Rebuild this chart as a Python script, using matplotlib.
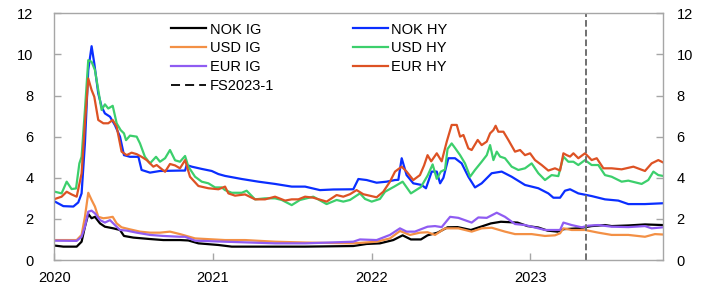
import matplotlib
matplotlib.use("Agg")
import matplotlib.pyplot as plt
from matplotlib.lines import Line2D
import numpy as np

plt.rcParams['font.family'] = ['Liberation Sans', 'DejaVu Sans']
plt.rcParams['font.size'] = 10.5

# ---- data: time in years since 2020-01-01, values in percentage points ----
t_nok_hy = [0.004,0.057,0.12,0.151,0.172,0.193,0.214,0.235,0.252,0.277,
            0.298,0.319,0.351,0.382,0.414,0.439,0.477,0.53,0.55,0.603,
            0.666,0.792,0.824,0.834,0.866,0.929,0.992,1.034,1.076,1.181,
            1.286,1.391,1.496,1.58,1.674,1.758,1.884,1.916,1.968,2.031,
            2.094,2.147,2.168,2.189,2.22,2.262,2.314,2.342,2.378,2.41,
            2.431,2.452,2.483,2.525,2.567,2.609,2.651,2.693,2.756,2.819,
            2.882,2.966,3.05,3.113,3.145,3.187,3.218,3.25,3.302,3.386,
            3.47,3.554,3.617,3.722,3.835]
nok_hy = [2.84,2.62,2.6,2.8,3.24,5.67,9.24,10.4,9.56,8.1,
          7.46,7.13,6.97,6.56,6.0,5.1,5.02,5.02,4.38,4.25,
          4.33,4.35,4.35,4.62,4.54,4.43,4.33,4.18,4.09,3.94,
          3.81,3.70,3.57,3.57,3.40,3.43,3.44,3.94,3.89,3.76,
          3.81,3.89,3.9,4.95,4.13,3.73,3.65,3.49,4.3,4.3,
          3.73,4.0,4.95,4.95,4.7,4.05,3.53,3.73,4.22,4.3,
          4.05,3.65,3.49,3.24,3.03,3.03,3.37,3.44,3.24,3.11,
          2.95,2.89,2.72,2.72,2.76]

t_usd_hy = [0.004,0.046,0.078,0.109,0.137,0.158,0.172,0.193,0.214,0.235,
            0.256,0.277,0.298,0.319,0.34,0.368,0.393,0.418,0.439,0.452,
            0.477,0.519,0.54,0.571,0.603,0.641,0.666,0.698,0.729,0.761,
            0.792,0.824,0.845,0.887,0.929,0.971,1.013,1.055,1.076,1.118,
            1.181,1.212,1.265,1.328,1.391,1.433,1.496,1.548,1.632,1.716,
            1.779,1.821,1.863,1.926,1.958,2.0,2.052,2.084,2.142,2.195,
            2.247,2.31,2.352,2.384,2.41,2.436,2.462,2.478,2.504,2.525,
            2.557,2.588,2.62,2.651,2.693,2.725,2.746,2.767,2.788,2.809,
            2.84,2.882,2.924,2.966,3.008,3.05,3.092,3.134,3.176,3.208,
            3.239,3.271,3.302,3.344,3.386,3.428,3.47,3.512,3.575,3.617,
            3.701,3.743,3.775,3.806,3.835]
usd_hy = [3.32,3.24,3.81,3.45,3.48,4.7,5.02,7.3,9.72,9.64,
          9.24,8.27,7.3,7.57,7.37,7.5,6.65,6.32,6.16,5.83,
          6.05,6.0,5.67,5.02,4.7,5.02,4.78,4.95,5.35,4.85,
          4.78,5.06,4.54,4.05,3.81,3.73,3.53,3.53,3.4,3.27,
          3.27,3.37,2.95,3.0,3.0,2.92,2.67,2.92,3.08,2.72,
          2.92,2.84,2.92,3.24,2.97,2.84,2.97,3.32,3.57,3.81,
          3.24,3.55,4.1,4.65,3.95,4.3,4.4,5.4,5.67,5.45,
          5.1,4.7,4.05,4.38,4.78,5.1,5.59,4.86,5.27,5.03,
          4.95,4.54,4.38,4.46,4.7,4.22,3.89,4.13,4.08,5.03,
          4.78,4.78,4.62,4.86,4.62,4.62,4.13,4.05,3.81,3.86,
          3.7,3.89,4.3,4.13,4.09]

t_eur_hy = [0.004,0.046,0.078,0.109,0.141,0.172,0.193,0.214,0.235,0.252,
            0.277,0.309,0.34,0.368,0.393,0.424,0.456,0.487,0.519,0.55,
            0.582,0.624,0.645,0.698,0.729,0.761,0.792,0.824,0.855,0.908,
            0.971,1.034,1.076,1.097,1.139,1.202,1.265,1.328,1.391,1.454,
            1.496,1.538,1.58,1.632,1.716,1.779,1.821,1.863,1.905,1.947,
            2.031,2.073,2.115,2.147,2.189,2.22,2.262,2.304,2.33,2.352,
            2.375,2.41,2.441,2.473,2.504,2.536,2.557,2.578,2.609,2.63,
            2.668,2.693,2.725,2.746,2.767,2.781,2.798,2.83,2.861,2.903,
            2.935,2.966,2.998,3.029,3.071,3.113,3.155,3.187,3.208,3.229,
            3.25,3.271,3.302,3.344,3.386,3.418,3.46,3.512,3.575,3.649,
            3.722,3.764,3.806,3.835]
eur_hy = [2.97,3.08,3.32,3.19,3.08,4.21,6.65,8.83,8.27,7.94,
          6.81,6.65,6.65,6.81,6.48,5.27,5.1,5.22,5.15,5.02,
          4.86,4.54,4.62,4.29,4.67,4.6,4.46,4.86,4.05,3.6,
          3.49,3.44,3.57,3.24,3.13,3.19,2.95,2.95,3.08,2.89,
          2.95,2.95,3.08,3.03,2.84,3.16,3.08,3.2,3.4,3.2,
          3.05,3.32,3.81,4.3,4.54,4.3,3.89,4.13,4.6,5.1,
          4.8,5.19,4.8,5.76,6.57,6.57,6.0,6.08,5.43,5.35,
          5.84,5.59,5.76,6.16,6.32,6.53,6.24,6.24,5.84,5.27,
          5.35,5.1,5.19,4.86,4.62,4.35,4.46,4.35,5.19,5.1,
          5.03,5.19,4.95,5.19,4.86,4.95,4.46,4.46,4.41,4.54,
          4.33,4.7,4.86,4.75]

t_nok_ig = [0.004,0.057,0.141,0.172,0.193,0.214,0.235,0.256,0.288,0.319,
            0.372,0.414,0.439,0.498,0.603,0.687,0.792,0.845,0.908,1.034,
            1.118,1.58,1.884,1.968,2.052,2.136,2.195,2.247,2.31,2.352,
            2.415,2.478,2.541,2.625,2.688,2.751,2.814,2.919,2.982,3.05,
            3.108,3.171,3.21,3.302,3.386,3.47,3.512,3.617,3.722,3.835]
nok_ig = [0.7,0.65,0.65,0.89,1.62,2.24,2.03,2.1,1.78,1.62,
          1.54,1.46,1.17,1.09,1.02,0.97,0.97,0.95,0.81,0.73,
          0.65,0.65,0.68,0.78,0.81,0.97,1.2,1.0,1.0,1.2,
          1.33,1.59,1.6,1.46,1.62,1.78,1.86,1.82,1.65,1.58,
          1.43,1.38,1.5,1.54,1.65,1.7,1.65,1.68,1.73,1.7]

t_usd_ig = [0.004,0.141,0.172,0.193,0.214,0.235,0.256,0.277,0.309,0.34,
            0.368,0.393,0.424,0.477,0.54,0.603,0.666,0.729,0.792,0.887,
            1.076,1.202,1.391,1.58,1.884,2.031,2.115,2.178,2.241,2.304,
            2.352,2.399,2.462,2.546,2.63,2.693,2.756,2.84,2.903,3.008,
            3.092,3.155,3.187,3.208,3.26,3.344,3.428,3.512,3.617,3.722,
            3.785,3.835]
usd_ig = [0.97,0.97,1.22,2.1,3.27,2.92,2.6,2.1,2.03,2.06,
          2.1,1.78,1.59,1.49,1.38,1.33,1.33,1.38,1.26,1.05,
          0.97,0.97,0.89,0.85,0.81,0.89,1.05,1.41,1.22,1.33,
          1.35,1.22,1.54,1.54,1.38,1.54,1.57,1.38,1.26,1.26,
          1.17,1.2,1.3,1.54,1.46,1.46,1.33,1.22,1.22,1.13,
          1.26,1.24]

t_eur_ig = [0.004,0.141,0.172,0.193,0.214,0.235,0.256,0.288,0.319,0.351,
            0.382,0.414,0.456,0.519,0.603,0.687,0.792,0.824,0.887,1.076,
            1.391,1.58,1.884,1.926,2.031,2.115,2.178,2.22,2.272,2.325,
            2.352,2.399,2.441,2.494,2.546,2.63,2.672,2.725,2.788,2.84,
            2.903,2.966,3.05,3.092,3.187,3.208,3.26,3.323,3.365,3.428,
            3.512,3.617,3.722,3.764,3.835]
eur_ig = [0.94,0.93,1.13,1.62,2.35,2.4,2.27,1.94,1.82,1.94,
          1.7,1.46,1.43,1.33,1.22,1.17,1.13,1.13,0.94,0.89,
          0.81,0.81,0.89,1.0,0.97,1.22,1.54,1.38,1.38,1.54,
          1.62,1.65,1.6,2.1,2.05,1.82,2.07,2.05,2.3,2.1,
          1.75,1.7,1.54,1.46,1.46,1.82,1.7,1.59,1.67,1.7,
          1.62,1.6,1.65,1.54,1.59]

fs_date = 3.352          # FS2023-1 marker (years since 2020)
start_year = 2020
year_ticks = [0, 1, 2, 3]
year_labels = ['2020', '2021', '2022', '2023']
y_ticks = [0, 2, 4, 6, 8, 10, 12]

series = [
    ('NOK IG', t_nok_ig, nok_ig, '#000000'),
    ('NOK HY', t_nok_hy, nok_hy, '#0A2EFF'),
    ('USD IG', t_usd_ig, usd_ig, '#F39045'),
    ('USD HY', t_usd_hy, usd_hy, '#3CCF6C'),
    ('EUR IG', t_eur_ig, eur_ig, '#8F5CF2'),
    ('EUR HY', t_eur_hy, eur_hy, '#DD5224'),
]

fig = plt.figure(figsize=(7.22, 2.93), dpi=100)
ax = fig.add_axes([54.3/722, 33/293, (663.3-54.3)/722, (260-13.3)/293])

lines = {}
for name, t, v, c in series:
    ln, = ax.plot(np.array(t) + start_year, v, color=c, lw=1.6,
                  solid_joinstyle='round', label=name)
    lines[name] = ln

ax.axvline(fs_date + start_year, color='#707070', lw=1.4,
           linestyle=(0, (3.4, 1.6)))

ax.set_xlim(start_year, start_year + 3.8375)
ax.set_ylim(0, 12)
ax.set_xticks([start_year + y for y in year_ticks])
ax.set_xticklabels(year_labels)
ax.set_yticks(y_ticks)

spine_c = '#A6A6A6'
for s in ax.spines.values():
    s.set_color(spine_c)
    s.set_linewidth(1.0)
ax.tick_params(axis='both', direction='in', length=5, color=spine_c, width=1.0)
ax.tick_params(axis='x', pad=8)
ax.tick_params(axis='y', left=True, right=False, pad=15)

ax2 = ax.twinx()
ax2.set_ylim(0, 12)
ax2.set_yticks(y_ticks)
for s in ax2.spines.values():
    s.set_visible(False)
ax2.tick_params(axis='y', direction='in', length=5, color=spine_c, width=1.0,
                pad=9.5)

fs_proxy = Line2D([], [], color='black', lw=1.3, linestyle=(0, (5, 2.8)))
handles = [lines['NOK IG'], lines['USD IG'], lines['EUR IG'], fs_proxy,
           lines['NOK HY'], lines['USD HY'], lines['EUR HY']]
labels = ['NOK IG', 'USD IG', 'EUR IG', 'FS2023-1',
          'NOK HY', 'USD HY', 'EUR HY']
leg = ax.legend(handles, labels, ncol=2, loc='upper left',
                bbox_to_anchor=(171/722, 1 - 22.5/293),
                bbox_transform=fig.transFigure, frameon=False,
                borderpad=0, borderaxespad=0, handlelength=2.4,
                handletextpad=0.25, columnspacing=5.4, labelspacing=0.34)

fig.savefig('out.png', dpi=100)
